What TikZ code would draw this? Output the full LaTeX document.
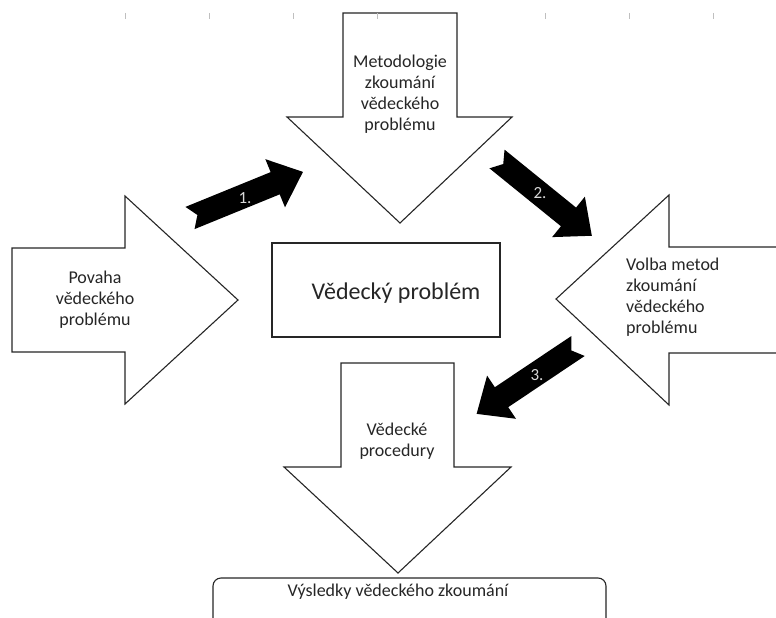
\documentclass[tikz,border=0pt]{standalone}
\usepackage{fontspec}
\setmainfont{Carlito}
\begin{document}
\begin{tikzpicture}[x=1pt,y=-1pt,
  outl/.style={draw=black!85,line width=1.1pt,fill=white,line join=miter},
  lbl/.style={font=\fontsize{18}{21}\selectfont,text=black!85,align=center,inner sep=0pt},
  num/.style={font=\fontsize{17}{17}\selectfont,text=white!85!black,inner sep=0pt},
  tick/.style={draw=black!25,line width=0.8pt},
  notcharrow/.pic={\fill[black] (0,12) -- (92,12) -- (92,26) -- (122,0) -- (92,-26) -- (92,-12) -- (0,-12) -- (8,0) -- cycle;}
]
\useasboundingbox (0,0) rectangle (776,618);
\clip (0,0) rectangle (776,618);

% top arrow
\draw[outl] (343,13) -- (457,13) -- (457,117) -- (512,117) -- (400,223) -- (287,117) -- (343,117) -- cycle;
\node[lbl] (top) at (400,94) {Metodologie\\zkoumání\\vědeckého\\problému};

% left arrow
\draw[outl] (12,248) -- (125,248) -- (125,196) -- (238,300) -- (125,404) -- (125,352) -- (12,352) -- cycle;
\node[lbl] (left) at (95,300) {Povaha\\vědeckého\\problému};

% right arrow
\draw[outl] (790,247) -- (669,247) -- (669,195) -- (556,299) -- (669,405) -- (669,353) -- (790,353) -- cycle;
\node[lbl,align=left,anchor=west] (right) at (626,297) {Volba metod\\zkoumání\\vědeckého\\problému};

% center box
\draw[outl] (272,243) rectangle (500,337);
\node[lbl,font=\fontsize{24}{28}\selectfont] (center) at (396,293) {Vědecký problém};

% bottom arrow
\draw[outl] (341,363) -- (454,363) -- (454,467) -- (511,467) -- (398,573) -- (284,467) -- (341,467) -- cycle;
\node[lbl] (bottom) at (397,441) {Vědecké\\procedury};

% results box
\draw[outl,rounded corners=8pt] (213,640) -- (213,578) -- (606,578) -- (606,640);
\node[lbl] (result) at (398,592) {Výsledky vědeckého zkoumání};

% black arrows
\pic[rotate=22.2] at (190,218) {notcharrow};
\node[num] (n1) at (245,198) {1.};
\pic[rotate=-39] at (497,159) {notcharrow};
\node[num] (n2) at (540,193) {2.};
\pic[rotate=213.8] at (578,346) {notcharrow};
\node[num] (n3) at (537,375) {3.};

% ruler ticks
\foreach \tx in {125,209,293,377,545,629,713}
  \draw[tick] (\tx,13) -- (\tx,19);
\end{tikzpicture}
\end{document}
